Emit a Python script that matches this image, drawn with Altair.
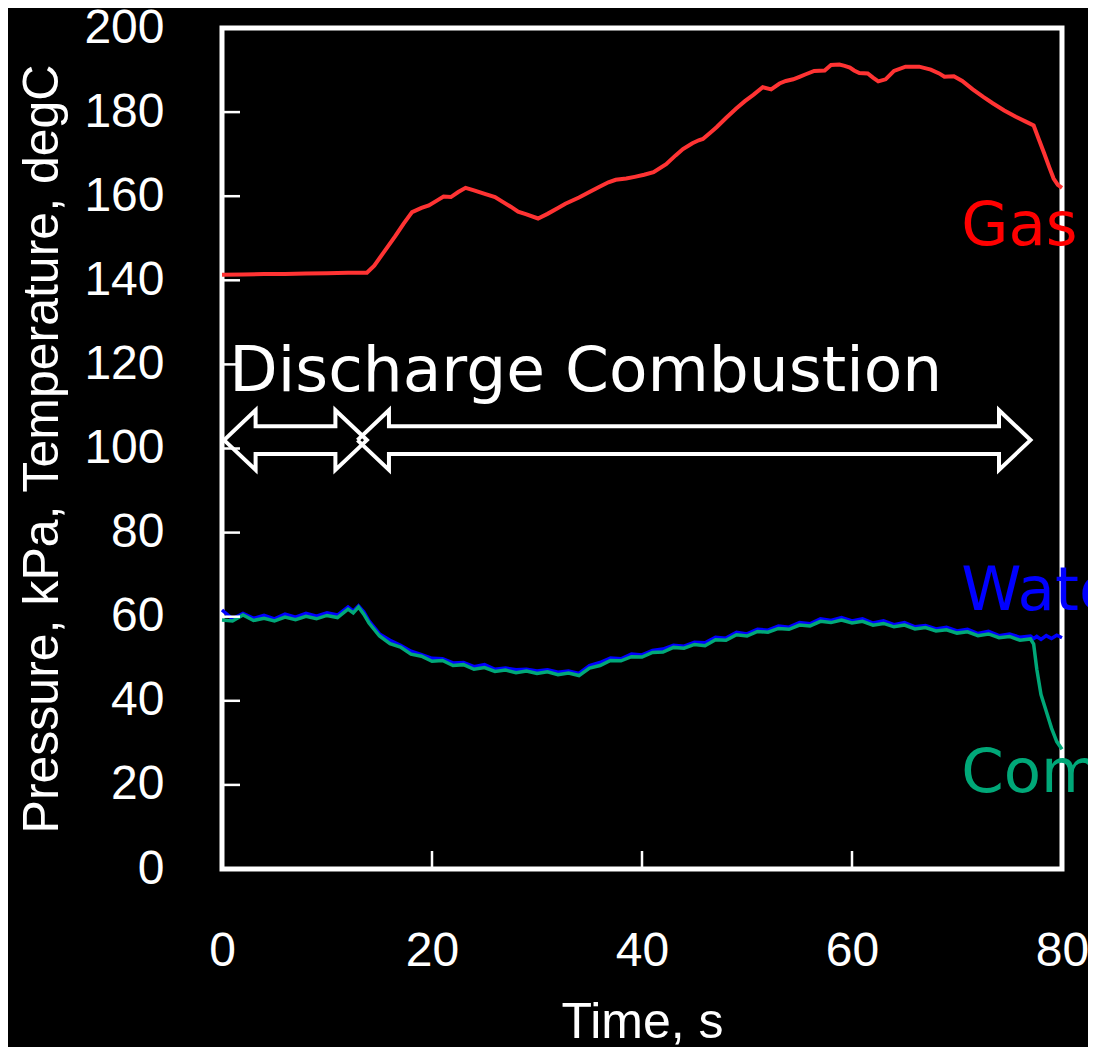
import altair as alt
import pandas as pd

# ---------------- data ----------------
TIME_TICKS = [0, 20, 40, 60, 80]
VALUE_TICKS = [0, 20, 40, 60, 80, 100, 120, 140, 160, 180, 200]

GAS_T = [0, 2, 4, 6, 8, 10, 12, 13.8, 14.5, 15.5, 16.5, 17.3, 18.1, 19.0, 19.7, 20.5, 21.1, 21.8,
         22.5, 23.2, 24.0, 25.1, 26.0, 26.7, 27.5, 28.2, 29.0, 30.1, 31.0, 32.0, 32.7, 34.0, 34.9,
         36.0, 36.8, 37.5, 38.5, 39.3, 40.2, 41.1, 42.3, 43.2, 43.9, 44.8, 45.4, 45.8, 46.5, 47.1,
         48.0, 49.0, 49.8, 50.6, 51.5, 52.3, 53.1, 53.7, 54.4, 55.0, 55.6, 56.4, 57.4, 58.0, 58.8,
         59.3, 59.8, 60.2, 60.7, 61.5, 62.0, 62.5, 63.2, 63.6, 64.0, 65.1, 66.4, 67.5, 68.3, 68.8,
         69.7, 70.5, 71.5, 72.5, 73.4, 74.5, 75.6, 76.5, 77.3, 77.8, 78.3, 78.8, 79.2, 79.6, 80.0]
GAS_V = [141.3, 141.4, 141.5, 141.5, 141.6, 141.7, 141.8, 141.8, 143.5, 147.0, 150.5, 153.5, 156.2,
         157.2, 157.8, 159.0, 159.9, 159.8, 161.0, 162.0, 161.4, 160.5, 159.8, 158.7, 157.5, 156.3,
         155.7, 154.7, 155.8, 157.2, 158.2, 159.7, 160.9, 162.3, 163.3, 163.9, 164.2, 164.6, 165.1,
         165.7, 167.6, 169.7, 171.2, 172.6, 173.3, 173.6, 175.1, 176.4, 178.6, 180.9, 182.6, 184.1,
         185.9, 185.4, 186.8, 187.4, 187.8, 188.4, 189.0, 189.8, 189.9, 191.2, 191.3, 191.0, 190.6,
         189.9, 189.3, 189.2, 188.2, 187.3, 187.8, 188.8, 189.8, 190.8, 190.8, 190.1, 189.2, 188.4,
         188.5, 187.4, 185.4, 183.6, 182.1, 180.4, 178.9, 177.8, 176.8, 173.5, 170.2, 166.8, 164.2,
         162.7, 162.0]

P_T = [0, 1, 2, 3, 4, 5, 6, 7, 8, 9, 10, 11, 12, 12.5, 13, 13.5,
       14, 15, 16, 17, 18, 19, 20, 21, 22, 23, 24, 25, 26, 27, 28, 29, 30, 31, 32, 33,
       34, 35, 36, 37, 38, 39, 40, 41, 42, 43, 44, 45, 46, 47, 48, 49, 50, 51, 52, 53,
       54, 55, 56, 57, 58, 59, 60, 61, 62, 63, 64, 65, 66, 67, 68, 69, 70, 71, 72, 73,
       74, 75, 76, 77, 77.3, 77.6, 78, 78.5, 79, 79.5, 80]

COMB_V = [59.2, 59.0, 60.4, 59.1, 59.6, 59.0, 59.9, 59.3, 60.1, 59.5, 60.3, 59.8, 61.8, 60.9, 62.3, 60.6,
          58.5, 55.4, 53.6, 52.8, 51.1, 50.6, 49.4, 49.6, 48.4, 48.6,
          47.5, 47.9, 47.0, 47.3, 46.7, 47.1, 46.5, 46.9, 46.2, 46.6,
          46.0, 47.8, 48.4, 49.6, 49.5, 50.5, 50.4, 51.5, 51.6, 52.7,
          52.5, 53.4, 53.1, 54.5, 54.4, 55.7, 55.4, 56.5, 56.3, 57.2,
          57.0, 58.0, 57.8, 58.9, 58.6, 59.2, 58.5, 58.9, 58.0, 58.4,
          57.6, 58.0, 57.1, 57.4, 56.6, 56.9, 56.1, 56.4, 55.5, 55.9,
          55.0, 55.3, 54.4, 54.7,
          53.5, 47.5, 41.5, 37.5, 33.5, 30.3, 28.5]

WATER_V = [61.6, 59.5, 60.8, 59.6, 60.3, 59.5, 60.6, 59.9, 60.8, 60.1, 60.9, 60.4, 62.3, 61.3, 62.6, 61.2,
           59.0, 55.9, 54.4, 53.2, 51.8, 51.0, 50.1, 50.0, 49.0, 49.1,
           48.1, 48.6, 47.5, 47.8, 47.4, 47.5, 47.1, 47.4, 46.8, 47.1,
           46.5, 48.4, 49.1, 50.2, 50.0, 51.1, 50.9, 52.0, 52.3, 53.2,
           53.0, 53.9, 53.8, 55.1, 54.9, 56.3, 55.9, 57.0, 56.8, 57.8,
           57.5, 58.6, 58.3, 59.5, 59.1, 59.8, 59.0, 59.5, 58.5, 59.0,
           58.1, 58.6, 57.6, 57.9, 57.1, 57.5, 56.6, 57.0, 56.0, 56.5,
           55.5, 55.9, 55.1, 55.4,
           54.8, 55.3, 54.6, 55.5, 54.8, 55.6, 55.0]

SERIES_LABELS = ["Gas", "Water", "Combustion"]
SERIES_LABEL_T = [70.4, 70.4, 70.4]
SERIES_LABEL_V = [148.4, 61.6, 18.4]
SERIES_COLORS = ["#ff0000", "#0000ff", "#00a878"]

PHASE_TEXT = "Discharge Combustion"
PHASE_TEXT_T = 0.7
PHASE_TEXT_V = 113.7

# double arrows: start time, end time
ARROW_T0 = [0.2, 12.9]
ARROW_T1 = [13.8, 77.0]
ARROW_Y = 102.0
ARROW_HEAD_LEN = 3.0
ARROW_HEAD_HALF = 7.1
ARROW_SHAFT_HALF = 3.3

# ---------------- build tables ----------------
W, H = 840, 841
LABEL_FONT = "Liberation Sans, Arial, Helvetica, sans-serif"
NOTE_FONT = "DejaVu Sans, Verdana, sans-serif"

gas_df = pd.DataFrame({"t": GAS_T, "v": GAS_V})
water_df = pd.DataFrame({"t": P_T, "v": WATER_V})
comb_df = pd.DataFrame({"t": P_T, "v": COMB_V})

rows = []
for i, (a, b) in enumerate(zip(ARROW_T0, ARROW_T1)):
    hl, hh, sh, yc = ARROW_HEAD_LEN, ARROW_HEAD_HALF, ARROW_SHAFT_HALF, ARROW_Y
    outline = [(a, yc), (a + hl, yc + hh), (a + hl, yc + sh), (b - hl, yc + sh), (b - hl, yc + hh),
               (b, yc), (b - hl, yc - hh), (b - hl, yc - sh), (a + hl, yc - sh), (a + hl, yc - hh),
               (a, yc)]
    for k, (x, y) in enumerate(outline):
        rows.append({"arrow": i, "k": k, "t": x, "v": y})
arrow_df = pd.DataFrame(rows)

label_df = pd.DataFrame({"label": SERIES_LABELS, "t": SERIES_LABEL_T, "v": SERIES_LABEL_V,
                         "color": SERIES_COLORS})
phase_df = pd.DataFrame({"label": [PHASE_TEXT], "t": [PHASE_TEXT_T], "v": [PHASE_TEXT_V]})
ytick_df = pd.DataFrame({"v": VALUE_TICKS[1:-1]})
xtick_df = pd.DataFrame({"t": TIME_TICKS[1:-1]})

xs = alt.Scale(domain=[0, 80], nice=False, zero=False)
ys = alt.Scale(domain=[0, 200], nice=False, zero=False)

x_axis = alt.Axis(values=TIME_TICKS, labelFont=LABEL_FONT, labelFontSize=48, labelColor="white",
                  labelPadding=96, labelBaseline="alphabetic", labelFlush=False, labelOverlap=False,
                  ticks=False, tickSize=0, domain=False, grid=False,
                  title="Time, s", titleFont=LABEL_FONT, titleFontSize=50, titleColor="white",
                  titleFontWeight="normal", titleX=W / 2, titleY=168, titleBaseline="alphabetic",
                  titleAlign="center")
y_axis = alt.Axis(values=VALUE_TICKS, labelFont=LABEL_FONT, labelFontSize=48, labelColor="white",
                  labelPadding=58, labelBaseline="middle", labelFlush=False, labelOverlap=False,
                  ticks=False, tickSize=0, domain=False, grid=False,
                  title="Pressure, kPa, Temperature, degC", titleFont=LABEL_FONT, titleFontSize=50,
                  titleColor="white", titleFontWeight="normal", titleAngle=270, titleX=-165,
                  titleY=H / 2, titleBaseline="alphabetic", titleAlign="center")


def X(field="t"):
    return alt.X(f"{field}:Q", scale=xs, axis=x_axis)


def Y(field="v"):
    return alt.Y(f"{field}:Q", scale=ys, axis=y_axis)


gas = alt.Chart(gas_df).mark_line(color="#ff3333", strokeWidth=4).encode(x=X(), y=Y())
water = alt.Chart(water_df).mark_line(color="#0000ff", strokeWidth=3.5).encode(x=X(), y=Y())
comb = alt.Chart(comb_df).mark_line(color="#00a878", strokeWidth=3.5).encode(x=X(), y=Y())

yticks = alt.Chart(ytick_df).mark_rule(color="white", strokeWidth=2.5).encode(
    y=Y(), x=alt.value(0), x2=alt.value(18))
xticks = alt.Chart(xtick_df).mark_rule(color="white", strokeWidth=2.5).encode(
    x=X(), y=alt.value(H - 18), y2=alt.value(H))

arrows = alt.Chart(arrow_df).mark_line(color="white", strokeWidth=4, strokeJoin="miter").encode(
    x=X(), y=Y(), detail="arrow:N", order="k:Q")

labels = alt.Chart(label_df).mark_text(font=NOTE_FONT, fontSize=61, align="left",
                                       baseline="alphabetic").encode(
    x=X(), y=Y(), text="label:N", color=alt.Color("color:N", scale=None))
phase = alt.Chart(phase_df).mark_text(font=NOTE_FONT, fontSize=63, align="left",
                                      baseline="alphabetic", color="white").encode(
    x=X(), y=Y(), text="label:N")

chart = alt.layer(gas, water, comb, yticks, xticks, arrows, labels, phase).properties(
    width=W, height=H,
    autosize=alt.AutoSizeParams(type="none"),
    padding={"left": 214, "top": 20, "right": 26, "bottom": 178},
    background="black",
).configure_view(stroke="white", strokeWidth=5, fill="black")

chart.save("out.html", embed_options={"renderer": "svg", "actions": False})
